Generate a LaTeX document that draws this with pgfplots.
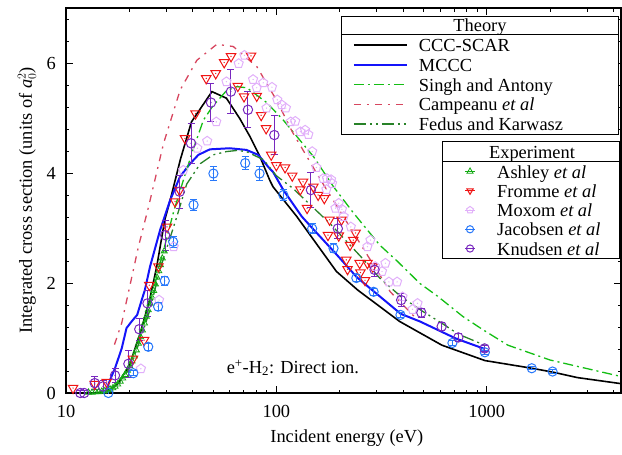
\documentclass[border=0pt]{standalone}
\usepackage{fontspec}
\setmainfont{Liberation Serif}
\usepackage{pgfplots}
\pgfplotsset{compat=1.18}
\usepackage{pgfplotstable}

\definecolor{mccc}{RGB}{20,20,250}
\definecolor{singh}{RGB}{20,190,20}
\definecolor{campeanu}{RGB}{215,70,95}
\definecolor{fedus}{RGB}{40,130,40}
\definecolor{ashley}{RGB}{20,170,20}
\definecolor{fromme}{RGB}{240,20,20}
\definecolor{moxom}{RGB}{225,175,250}
\definecolor{jacobsen}{RGB}{40,120,250}
\definecolor{knudsen}{RGB}{120,40,190}

% open marks with a dot at the centre
\pgfdeclareplotmark{cdot}{%
  \pgfpathcircle{\pgfpointorigin}{\pgfplotmarksize}\pgfusepathqstroke
  \pgfpathcircle{\pgfpointorigin}{0.7pt}\pgfusepathqfill}
\pgfdeclareplotmark{tdot}{%
  \pgfpathmoveto{\pgfpointpolar{90}{\pgfplotmarksize}}%
  \pgfpathlineto{\pgfpointpolar{210}{\pgfplotmarksize}}%
  \pgfpathlineto{\pgfpointpolar{330}{\pgfplotmarksize}}%
  \pgfpathclose\pgfusepathqstroke
  \pgfpathcircle{\pgfpointorigin}{0.6pt}\pgfusepathqfill}
\pgfdeclareplotmark{vdot}{%
  \pgfpathmoveto{\pgfpointpolar{270}{\pgfplotmarksize}}%
  \pgfpathlineto{\pgfpointpolar{30}{\pgfplotmarksize}}%
  \pgfpathlineto{\pgfpointpolar{150}{\pgfplotmarksize}}%
  \pgfpathclose\pgfusepathqstroke
  \pgfpathcircle{\pgfpointorigin}{0.7pt}\pgfusepathqfill}
\pgfdeclareplotmark{pdot}{%
  \pgfpathmoveto{\pgfpointpolar{90}{\pgfplotmarksize}}%
  \pgfpathlineto{\pgfpointpolar{162}{\pgfplotmarksize}}%
  \pgfpathlineto{\pgfpointpolar{234}{\pgfplotmarksize}}%
  \pgfpathlineto{\pgfpointpolar{306}{\pgfplotmarksize}}%
  \pgfpathlineto{\pgfpointpolar{18}{\pgfplotmarksize}}%
  \pgfpathclose\pgfusepathqstroke
  \pgfpathcircle{\pgfpointorigin}{0.7pt}\pgfusepathqfill}

% ---------------- theory ----------------
\pgfplotstableread{
x y
15.1 0.00
17.5 0.15
20.0 0.50
22.5 1.08
25.0 1.70
27.0 2.30
29.5 3.15
31.3 3.51
35.0 4.25
39.5 4.93
49.4 5.48
57.9 5.36
67.0 4.99
75.0 4.66
83.5 4.30
93.0 3.87
96.4 3.75
125 3.21
193 2.21
244 1.87
386 1.30
612 0.87
980 0.59
1640 0.45
2060 0.38
2700 0.28
4350 0.17
}\cccscar

\pgfplotstableread{
x y
15.4 0.00
16.2 0.24
17.1 0.45
18.4 0.81
19.4 1.18
20.5 1.30
21.8 1.42
22.9 1.69
23.7 1.87
25.1 2.30
28.0 2.96
31.3 3.51
34.8 3.93
38.5 4.15
42.6 4.33
48.3 4.43
60.0 4.45
72.0 4.42
82.0 4.33
93.0 4.08
96.4 4.02
108 3.69
132 3.21
148 3.00
190 2.55
242 2.10
290 1.85
390 1.44
482 1.30
714 0.99
980 0.80
}\mcccdata

\pgfplotstableread{
x y
15.5 0.00
18.0 0.22
20.0 0.50
22.5 1.00
25.0 1.60
28.0 2.35
32.5 3.30
36.0 3.85
40.4 4.45
45.0 4.96
49.5 5.20
58.0 5.50
65.0 5.57
72.4 5.55
90 5.28
108 4.96
150 4.30
187 3.75
233 3.27
310 2.69
375 2.40
482 1.99
584 1.76
771 1.39
960 1.15
1260 0.87
2000 0.60
4350 0.30
}\singhdata

\pgfplotstableread{
x y
17.0 0.88
18.4 1.27
19.6 1.75
22.1 2.66
24.7 3.39
29.1 4.54
34.9 5.51
41.9 6.05
52.1 6.34
62.4 6.30
80.9 5.93
101 5.30
119 4.75
162 3.88
250 2.72
348 1.84
469 1.33
}\campeanudata

\pgfplotstableread{
x y
15.5 0.00
18.0 0.18
20.0 0.45
22.5 0.95
25.0 1.50
28.0 2.25
33.6 3.20
37.5 3.80
43.5 4.17
50.0 4.33
58.0 4.39
65.0 4.41
72.0 4.39
87.0 4.24
100 3.95
120 3.72
180 3.08
252 2.48
310 2.09
392 1.75
489 1.50
611 1.27
733 1.07
977 0.87
}\fedusdata

% ---------------- experiment ----------------
\pgfplotstableread{
x y
12.8 0.01
13.3 0.01
13.8 0.02
14.3 0.02
14.8 0.03
15.3 0.04
15.8 0.05
16.2 0.07
16.7 0.09
17.1 0.12
17.6 0.16
18.1 0.21
18.6 0.27
19.1 0.33
19.6 0.41
20.1 0.49
20.6 0.58
21.1 0.67
21.6 0.78
22.1 0.90
22.6 1.02
23.1 1.14
23.6 1.27
24.1 1.39
24.6 1.51
25.1 1.63
25.6 1.74
26.1 1.86
26.6 1.98
27.1 2.10
27.6 2.22
28.1 2.33
28.7 2.45
29.3 2.58
}\ashleydata

\pgfplotstableread{
x y
10.8 0.09
13.7 0.16
15.6 0.20
20.8 0.62
23.5 0.96
24.9 1.96
27.5 2.30
30.2 3.02
33.0 3.48
34.7 3.69
36.8 4.63
41.3 5.08
46.4 5.72
51.5 5.81
56.5 6.01
60.9 6.12
65.6 5.58
70.2 5.39
75.8 6.13
80.7 5.40
84.7 5.05
89.4 4.81
94.5 4.33
100 4.14
110 4.10
119 3.95
130 3.70
134 3.84
140 3.36
150 3.75
158 3.60
169 3.54
176 2.87
179 3.15
198 2.86
204 3.15
215 2.42
218 2.25
224 2.69
232 2.78
238 2.91
249 2.36
251 2.19
264 2.05
271 2.36
287 2.30
}\frommedata

\pgfplotstableread{
x y
22.7 0.44
27.7 1.69
32.5 2.66
36.1 4.05
42.1 4.45
46.9 4.58
51.8 4.93
57.9 5.66
66.2 5.99
70.5 6.14
77.5 5.70
80.7 5.55
86.6 5.64
89.8 5.18
95.3 5.56
101 5.33
106 5.24
111 5.18
117 4.93
123 4.94
130 4.75
137 4.78
142 4.70
148 4.39
155 4.10
167 3.90
173 3.70
174 3.90
182 3.88
184 3.81
191 3.36
198 3.45
205 3.34
209 3.21
226 3.02
271 2.66
280 2.78
295 2.30
318 2.21
330 2.36
343 2.02
375 2.02
398 1.75
444 1.52
469 1.63
}\moxomdata

\pgfplotstableread{
x y e
15.9 0.00 0.03
20.9 0.36 0.05
24.6 0.84 0.06
27.4 1.57 0.07
29.5 2.04 0.08
32.3 2.75 0.10
40.4 3.42 0.10
50.2 3.99 0.12
71.1 4.18 0.12
83.2 3.99 0.12
108 3.60 0.10
148 2.99 0.09
187 2.63 0.08
240 2.09 0.07
290 1.84 0.06
389 1.42 0.05
687 0.91 0.04
980 0.74 0.04
1637 0.45 0.03
2056 0.39 0.03
}\jacobsendata

\pgfplotstableread{
x y e
11.7 0.00 0.04
12.2 0.00 0.04
13.7 0.18 0.12
15.0 0.12 0.10
17.1 0.32 0.12
19.8 0.53 0.24
22.3 1.16 0.20
24.4 1.63 0.24
29.6 2.87 0.27
34.7 3.66 0.30
39.3 4.54 0.36
48.9 5.28 0.34
60.8 5.48 0.40
73.3 5.15 0.33
97.8 4.69 0.36
146 3.69 0.32
196 2.99 0.18
293 2.24 0.12
392 1.69 0.12
489 1.46 0.08
611 1.21 0.07
733 1.01 0.07
977 0.81 0.06
}\knudsendata

\begin{document}
\begin{tikzpicture}[font=\fontsize{18.4}{22}\selectfont]
\begin{axis}[
  scale only axis, width=555pt, height=385pt,
  xmode=log, xmin=10, xmax=4350, ymin=0, ymax=7,
  axis line style={line width=1.3pt},
  tick align=inside,
  major tick length=7pt, minor tick length=3.5pt,
  tick style={line width=0.9pt, black},
  xtick={10,100,1000}, xticklabels={10,100,1000},
  minor xtick={20,30,40,50,60,70,80,90,200,300,400,500,600,700,800,900,2000,3000,4000},
  ytick={0,2,4,6}, yticklabels={0,2,4,6},
  minor ytick={0.4,0.8,1.2,1.6,2.4,2.8,3.2,3.6,4.4,4.8,5.2,5.6,6.4,6.8},
  xticklabel style={inner sep=0pt, anchor=north, yshift=-12pt},
  yticklabel style={inner sep=0pt, anchor=east, xshift=-10pt},
  xlabel={Incident energy (eV)},
  ylabel={Integrated cross section (units of \textit{a}$_0^2$)},
  xlabel style={at={(axis description cs:0.506,-0.117)}, anchor=center},
  ylabel style={at={(axis description cs:-0.0703,0.5)}, anchor=center},
  legend cell align=left,
  legend style={draw=none, fill=none, at={(0.5166,0.9299)}, anchor=north west,
    inner xsep=0pt, inner ysep=0pt, row sep=0pt, column sep=11pt,
    nodes={inner sep=0pt, text height=16.4pt, text depth=3.35pt}},
  legend image code/.code={\draw[#1] (0pt,0pt) -- (53pt,0pt);},
]
% legend frames
\draw[line width=1pt, fill=white] (rel axis cs:0.4968,0.6727) rectangle (rel axis cs:0.9951,0.9774);
\draw[line width=1pt] (rel axis cs:0.4968,0.9299) -- (rel axis cs:0.9951,0.9299);
\node[anchor=base] at (rel axis cs:0.7459,0.9384) {Theory};
\draw[line width=1pt, fill=white] (rel axis cs:0.6787,0.3481) rectangle (rel axis cs:0.998,0.6527);
\draw[line width=1pt] (rel axis cs:0.6787,0.6008) -- (rel axis cs:0.998,0.6008);
\node[anchor=base] at (rel axis cs:0.8396,0.6096) {Experiment};

\addplot[black, line width=1.6pt] table[x=x,y=y] {\cccscar};
\addlegendentry{CCC-SCAR}
\addplot[mccc, line width=2pt] table[x=x,y=y] {\mcccdata};
\addlegendentry{MCCC}
\addplot[singh, line width=1.3pt, dash pattern=on 10pt off 4pt on 2pt off 4pt] table[x=x,y=y] {\singhdata};
\addlegendentry{Singh and Antony}
\addplot[campeanu, line width=1.3pt, dash pattern=on 7pt off 6pt on 2pt off 6pt] table[x=x,y=y] {\campeanudata};
\addlegendentry{Campeanu \textit{et al}}
\addplot[fedus, line width=1.3pt, dash pattern=on 12pt off 4pt on 2pt off 4pt on 2pt off 4pt] table[x=x,y=y] {\fedusdata};
\addlegendentry{Fedus and Karwasz}

\node[anchor=base west, inner sep=0pt] at (axis cs:58,0.358) {e\textsuperscript{+}-H\textsubscript{2}: Direct ion.};

\coordinate (sw) at (rel axis cs:0,0);
\coordinate (ne) at (rel axis cs:1,1);
\end{axis}

\begin{axis}[
  scale only axis, width=555pt, height=385pt,
  xmode=log, xmin=10, xmax=4350, ymin=0, ymax=7,
  axis lines=none, ticks=none,
  legend cell align=left,
  legend style={draw=none, fill=none, at={(0.7177,0.6008)}, anchor=north west,
    inner xsep=0pt, inner ysep=0pt, row sep=0pt, column sep=21.7pt,
    nodes={inner sep=0pt, text height=16.125pt, text depth=3.125pt}},
  legend image code/.code={\path (-5pt,0pt) -- (5pt,0pt);
    \draw[#1, mark size=3.6pt] plot coordinates {(0pt,0pt)};},
]
\addplot[only marks, mark=tdot, mark size=3.5pt, color=ashley, line width=0.8pt] table[x=x,y=y] {\ashleydata};
\addlegendentry{Ashley \textit{et al}}
\addplot[only marks, mark=vdot, mark size=5.5pt, color=fromme, line width=1pt] table[x=x,y=y] {\frommedata};
\addlegendentry{Fromme \textit{et al}}
\addplot[only marks, mark=pdot, mark size=4.8pt, color=moxom, line width=1pt] table[x=x,y=y] {\moxomdata};
\addlegendentry{Moxom \textit{et al}}
\addplot[only marks, mark=cdot, mark size=4.6pt, color=jacobsen, line width=1pt,
  error bars/y dir=both, error bars/y explicit,
  error bars/error bar style={line width=1pt, color=jacobsen},
  error bars/error mark options={rotate=90, mark size=3.5pt, line width=1pt, color=jacobsen}]
  table[x=x,y=y,y error=e] {\jacobsendata};
\addlegendentry{Jacobsen \textit{et al}}
\addplot[only marks, mark=cdot, mark size=4.7pt, color=knudsen, line width=1pt,
  error bars/y dir=both, error bars/y explicit,
  error bars/error bar style={line width=1pt, color=knudsen},
  error bars/error mark options={rotate=90, mark size=3.5pt, line width=1pt, color=knudsen}]
  table[x=x,y=y,y error=e] {\knudsendata};
\addlegendentry{Knudsen \textit{et al}}
\end{axis}

\pgfresetboundingbox
\useasboundingbox ([shift={(-66pt,-61pt)}]sw) rectangle ([shift={(1pt,8pt)}]ne);
\end{tikzpicture}
\end{document}
